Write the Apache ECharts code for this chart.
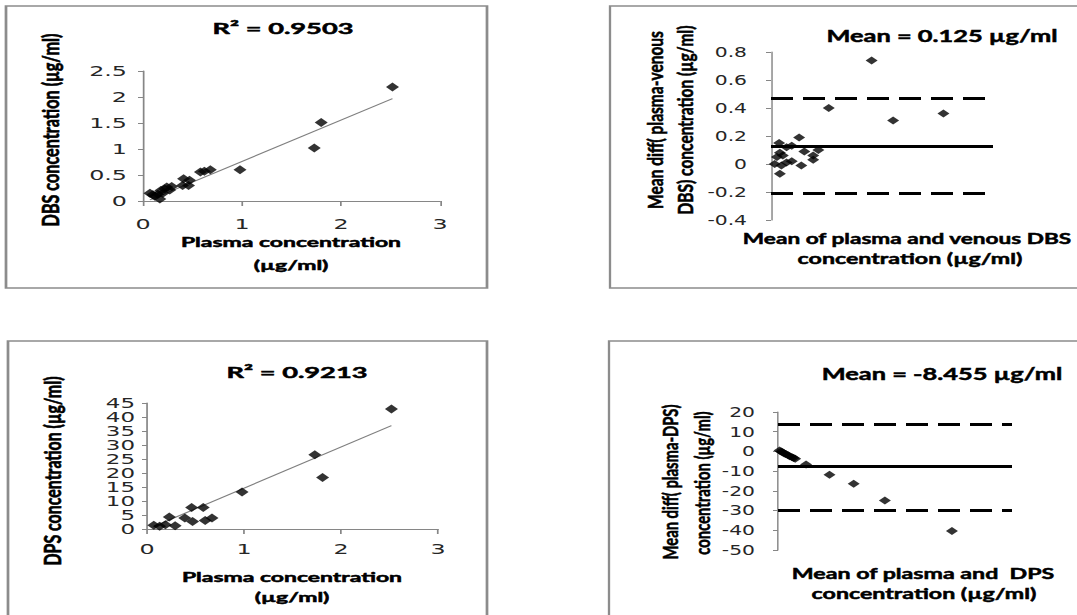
<!DOCTYPE html>
<html><head><meta charset="utf-8">
<script src="https://cdn.jsdelivr.net/npm/echarts@6/dist/echarts.min.js"></script>
<style>
html,body{margin:0;padding:0;width:1077px;height:615px;overflow:hidden;background:#fff;}
.panel{position:absolute;transform-origin:0 0;overflow:hidden;}
</style></head><body>
<div id="tl" class="panel"></div>
<div id="tr" class="panel"></div>
<div id="bl" class="panel"></div>
<div id="br" class="panel"></div>
<script>
// ---------- DATA ----------
// Top-left: plasma vs DBS
const dbsPlasma = [0.07,0.10,0.12,0.15,0.17,0.18,0.20,0.22,0.24,0.27,0.29,0.40,0.41,0.46,0.47,0.58,0.62,0.68,0.98,1.73,1.80,2.52];
const dbsConc   = [0.15,0.12,0.09,0.13,0.04,0.20,0.15,0.23,0.27,0.21,0.28,0.30,0.43,0.30,0.40,0.56,0.57,0.60,0.60,1.02,1.51,2.19];
const dbsTrendX = [0.07, 2.52];
const dbsTrendY = [0.02, 1.97];
const dbsTitle = 'R² = 0.9503';
const dbsXAxisRange = [0, 3, 1];
const dbsYAxisRange = [0, 2.5, 0.5];

// Bottom-left: plasma vs DPS
const dpsPlasma = [0.07,0.13,0.19,0.23,0.29,0.39,0.46,0.47,0.58,0.60,0.67,0.98,1.73,1.81,2.52];
const dpsConc   = [1.3,1.0,1.5,4.3,1.2,3.9,7.7,2.7,7.7,3.0,3.9,13.2,26.5,18.4,42.9];
const dpsTrendX = [0.07, 2.52];
const dpsTrendY = [0.9, 36.9];
const dpsTitle = 'R² = 0.9213';
const dpsXAxisRange = [0, 3, 1];
const dpsYAxisRange = [0, 45, 5];

// Top-right: Bland-Altman plasma - venous DBS
const baDbsMean = [0.11,0.21,0.28,0.38,0.45,0.57,0.64,0.12,0.16,0.08,0.05,0.14,0.21,0.28,0.41,0.12,0.57,0.78,1.36,1.65,2.33];
const baDbsDiff = [0.15,0.12,0.13,0.19,0.09,0.06,0.10,0.08,0.06,0.05,0.00,-0.01,0.01,0.02,-0.01,-0.07,0.03,0.40,0.74,0.31,0.36];
const baDbsLimits = [0.47, 0.13, -0.21];   // upper, mean, lower
const baDbsTitle = 'Mean = 0.125 µg/ml';
const baDbsXAxisRange = [0, 3];
const baDbsYAxisRange = [-0.4, 0.8, 0.2];

// Bottom-right: Bland-Altman plasma - DPS
const baDpsMean = [0.2,0.4,0.6,0.8,1.0,1.3,1.5,1.8,2.0,2.2,3.6,6.6,9.7,13.7,22.3];
const baDpsDiff = [0.5,0.0,-0.4,-1.0,-1.3,-2.0,-2.4,-2.9,-3.3,-3.7,-6.6,-11.8,-16.4,-24.9,-40.4];
const baDpsLimits = [13.7, -7.6, -29.6];
const baDpsTitle = 'Mean = -8.455 µg/ml';
const baDpsXAxisRange = [0, 30];
const baDpsYAxisRange = [-50, 20, 10];

// ---------- LAYOUT HELPERS ----------
const AXIS_GRAY = '#868686';
const BORDER_GRAY = '#8c8c8c';
const TICK_FONT = 'DejaVu Sans';
const TEXT_FONT = 'Lato';

function pairs(xs, ys){ return xs.map((x,i)=>[x, ys[i]]); }

function panel(id, L, T, W, H, s, build){
  const el = document.getElementById(id);
  el.style.left = L + 'px'; el.style.top = T + 'px';
  el.style.width = (W / s) + 'px'; el.style.height = H + 'px';
  el.style.transform = 'scaleX(' + s + ')';
  const X = r => (r - L) / s, Y = r => r - T;
  const chart = echarts.init(el, null, {renderer: 'svg'});
  chart.setOption(build(X, Y, s));
}

function hText(X, Y, text, cx, cy, size){
  return {type:'text', x:X(cx), y:Y(cy), style:{text:text, fontFamily:TEXT_FONT, fontWeight:'bold', fontSize:size, fill:'#000', stroke:'#000', lineWidth:0.5, align:'center', verticalAlign:'middle'}};
}
function vText(X, Y, text, cx, cy, size, stretch){
  return {type:'text', x:X(cx), y:Y(cy), rotation:Math.PI/2, scaleX:stretch, style:{text:text, fontFamily:TEXT_FONT, fontWeight:'bold', fontSize:size, fill:'#000', stroke:'#000', lineWidth:0.4, align:'center', verticalAlign:'middle'}};
}
function border(X, Y, x0, y0, x1, y1, s){
  return {type:'rect', shape:{x:X(x0), y:Y(y0), width:(x1-x0)/s, height:y1-y0}, style:{fill:'none', stroke:BORDER_GRAY, lineWidth:1.6}};
}
function yAxisCfg(range, s, margin, fontSize, lh){
  return {type:'value', min:range[0], max:range[1], interval:range[2],
    axisLine:{show:true, onZero:false, lineStyle:{color:AXIS_GRAY, width:1}},
    axisTick:{show:true, length:5/s, lineStyle:{color:AXIS_GRAY}},
    axisLabel:{margin:margin/s, fontFamily:TICK_FONT, fontSize:fontSize, lineHeight:lh, color:'#262626'},
    splitLine:{show:false}};
}

function scatterOption(X, Y, s, c){
  return {
    animation:false,
    grid:{left:X(c.gl), top:Y(c.gt), width:(c.gr-c.gl)/s, height:c.gb-c.gt},
    xAxis:{type:'value', min:c.xr[0], max:c.xr[1], interval:c.xr[2],
      axisLine:{show:true, onZero:false, lineStyle:{color:AXIS_GRAY, width:1}},
      axisTick:{show:true, length:5, lineStyle:{color:AXIS_GRAY}},
      axisLabel:{margin:c.xm, fontFamily:TICK_FONT, fontSize:14, color:'#262626'},
      splitLine:{show:false}},
    yAxis:yAxisCfg(c.yr, s, c.ym, c.tf, c.lh),
    series:[
      {type:'scatter', data:pairs(c.xs, c.ys), symbol:'diamond', symbolSize:[13/s, 9], itemStyle:{color:'#000'}, z:3},
      {type:'line', data:pairs(c.tx, c.ty), symbol:'none', lineStyle:{color:'#7f7f7f', width:1}, z:2}
    ],
    graphic:c.graphic
  };
}

function baOption(X, Y, s, c){
  const dash = [22/s, 10/s];
  return {
    animation:false,
    grid:{left:X(c.gl), top:Y(c.gt), width:(c.gr-c.gl)/s, height:c.gb-c.gt},
    xAxis:{type:'value', min:c.xr[0], max:c.xr[1], show:false},
    yAxis:yAxisCfg(c.yr, s, c.ym, c.tf, c.lh),
    series:[{type:'scatter', data:pairs(c.xs, c.ys), symbol:'diamond', symbolSize:[12/s, 8], itemStyle:{color:'#000'},
      markLine:{silent:true, symbol:['none','none'], label:{show:false}, animation:false,
        data:[
          {yAxis:c.lim[0], lineStyle:{color:'#000', width:3, type:dash}},
          {yAxis:c.lim[1], lineStyle:{color:'#000', width:3, type:'solid'}},
          {yAxis:c.lim[2], lineStyle:{color:'#000', width:3, type:dash}}
        ]}}],
    graphic:c.graphic
  };
}

const SL = 1.7, SR = 1.45;

panel('tl', 0, 0, 548, 315, SL, (X, Y, s) => scatterOption(X, Y, s, {
  gl:143, gr:440, gt:71, gb:201, xr:dbsXAxisRange, yr:dbsYAxisRange, xm:16, ym:16, tf:14, lh:16,
  xs:dbsPlasma, ys:dbsConc, tx:dbsTrendX, ty:dbsTrendY,
  graphic:[
    border(X, Y, 6, 6, 487, 288, s),
    hText(X, Y, dbsTitle, 283, 28, 16),
    hText(X, Y, 'Plasma concentration', 291, 242, 13.5),
    hText(X, Y, '(µg/ml)', 291, 265, 13.5),
    vText(X, Y, 'DBS concentration (µg/ml)', 50, 130, 13.5, 1.2)
  ]
}));

panel('bl', 0, 315, 548, 300, SL, (X, Y, s) => scatterOption(X, Y, s, {
  gl:147, gr:438, gt:403, gb:529, xr:dpsXAxisRange, yr:dpsYAxisRange, xm:13, ym:12, tf:13.5, lh:13,
  xs:dpsPlasma, ys:dpsConc, tx:dpsTrendX, ty:dpsTrendY,
  graphic:[
    border(X, Y, 8, 341, 487, 625, s),
    hText(X, Y, dpsTitle, 297, 372, 16),
    hText(X, Y, 'Plasma concentration', 292, 577, 13.5),
    hText(X, Y, '(µg/ml)', 292, 597, 13.5),
    vText(X, Y, 'DPS concentration (µg/ml)', 52, 471, 13.5, 1.18)
  ]
}));

panel('tr', 548, 0, 529, 315, SR, (X, Y, s) => baOption(X, Y, s, {
  gl:771, gr:993, gt:52, gb:220, xr:baDbsXAxisRange, yr:baDbsYAxisRange, ym:24, tf:14, lh:16,
  xs:baDbsMean, ys:baDbsDiff, lim:baDbsLimits,
  graphic:[
    border(X, Y, 610, 6, 1090, 288, s),
    hText(X, Y, baDbsTitle, 942, 35, 17.5),
    hText(X, Y, 'Mean of plasma and venous DBS', 907, 238, 15.6),
    hText(X, Y, 'concentration (µg/ml)', 910, 258, 16),
    vText(X, Y, 'Mean diff( plasma-venous', 655, 120, 14.5, 1.07),
    vText(X, Y, 'DBS) concentration (µg/ml)', 685, 120, 14.5, 1.07)
  ]
}));

panel('br', 548, 315, 529, 300, SR, (X, Y, s) => baOption(X, Y, s, {
  gl:778, gr:1012, gt:412, gb:550, xr:baDpsXAxisRange, yr:baDpsYAxisRange, ym:23, tf:14, lh:16,
  xs:baDpsMean, ys:baDpsDiff, lim:baDpsLimits,
  graphic:[
    border(X, Y, 609, 341, 1090, 625, s),
    hText(X, Y, baDpsTitle, 942, 373, 17.5),
    hText(X, Y, 'Mean of plasma and  DPS', 923, 573, 16),
    hText(X, Y, 'concentration (µg/ml)', 924, 593, 16),
    vText(X, Y, 'Mean diff( plasma-DPS)', 670, 482, 14.5, 1.02),
    vText(X, Y, 'concentration (µg/ml)', 702, 483, 14.5, 1.02)
  ]
}));
</script>
</body></html>
